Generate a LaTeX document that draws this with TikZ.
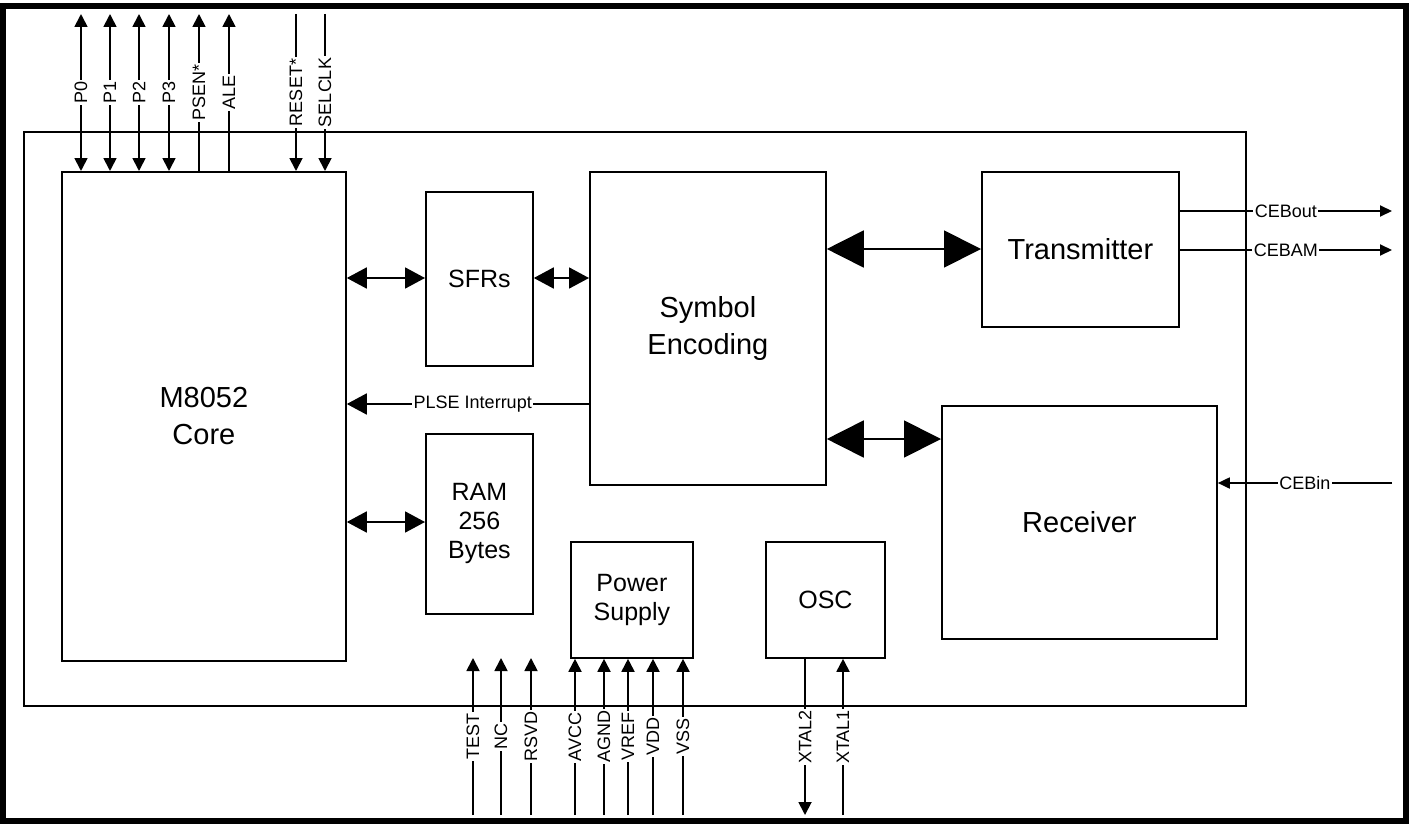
\documentclass[tikz,border=0pt]{standalone}
\usepackage{fontspec}
\setmainfont{Liberation Sans}
\usetikzlibrary{arrows.meta}
\begin{document}
\begin{tikzpicture}[x=1pt,y=-1pt,
  box/.style={draw, line width=1.8pt, inner sep=0pt, anchor=north west, align=center},
  bigtxt/.style={font=\fontsize{29}{37}\selectfont},
  midtxt/.style={font=\fontsize{25}{29}\selectfont},
  wire/.style={line width=1.8pt},
  pinlbl/.style={fill=white, inner sep=1.5pt, font=\fontsize{18}{20}\selectfont},
  vlbl/.style={pinlbl, rotate=90},
  pint/.tip={Triangle[length=13pt,width=13pt]},
  smt/.tip={Triangle[length=12pt,width=11pt]},
  medt/.tip={Triangle[length=20pt,width=21pt]},
  bigt/.tip={Triangle[length=37pt,width=37pt]}]
\useasboundingbox (0,0) rectangle (1415,824);
\draw[line width=6pt] (3,6.3) rectangle (1406,821);
% chip outline
\node[box, minimum width=1222pt, minimum height=574pt] (chip) at (23,131) {};
% blocks
\node[box, bigtxt, minimum width=284pt, minimum height=489pt] (core) at (61,171) {M8052\\Core};
\node[box, midtxt, minimum width=107pt, minimum height=174pt] (sfr) at (425,191) {SFRs};
\node[box, midtxt, minimum width=107pt, minimum height=180pt] (ram) at (425,433) {RAM\\256\\Bytes};
\node[box, bigtxt, minimum width=236pt, minimum height=313pt] (sym) at (589,171) {Symbol\\Encoding};
\node[box, bigtxt, minimum width=197pt, minimum height=155pt] (tx) at (981,171) {Transmitter};
\node[box, bigtxt, minimum width=275pt, minimum height=233pt] (rx) at (941,405) {Receiver};
\node[box, midtxt, minimum width=122pt, minimum height=116pt] (ps) at (570,541) {Power\\Supply};
\node[box, midtxt, minimum width=119pt, minimum height=116pt] (osc) at (765,541) {OSC};
% internal connectors
\coordinate (ya) at (0,278);
\coordinate (yb) at (0,249);
\coordinate (yc) at (0,439);
\coordinate (yd) at (0,404);
\coordinate (ye) at (0,522);
\draw[wire, medt-medt] (core.east |- ya) -- (sfr.west |- ya);
\draw[wire, medt-medt] (sfr.east |- ya) -- (sym.west |- ya);
\draw[wire, bigt-bigt] (sym.east |- yb) -- (tx.west |- yb);
\draw[wire, bigt-bigt] (sym.east |- yc) -- (rx.west |- yc);
\draw[wire, -medt] (sym.west |- yd) -- (core.east |- yd) node[pos=0.48, pinlbl] {PLSE Interrupt};
\draw[wire, medt-medt] (core.east |- ye) -- (ram.west |- ye);
% top pins
\coordinate (t0) at (81,14);
\coordinate (t1) at (110,14);
\coordinate (t2) at (139,14);
\coordinate (t3) at (169,14);
\coordinate (t4) at (199,14);
\coordinate (t5) at (229,14);
\coordinate (t6) at (296,14);
\coordinate (t7) at (325,14);
\draw[wire, pint-pint] (t0) -- (t0 |- core.north) node[midway, vlbl] {P0};
\draw[wire, pint-pint] (t1) -- (t1 |- core.north) node[midway, vlbl] {P1};
\draw[wire, pint-pint] (t2) -- (t2 |- core.north) node[midway, vlbl] {P2};
\draw[wire, pint-pint] (t3) -- (t3 |- core.north) node[midway, vlbl] {P3};
\draw[wire, -pint] (t4 |- core.north) -- (t4) node[midway, vlbl] {PSEN*};
\draw[wire, -pint] (t5 |- core.north) -- (t5) node[midway, vlbl] {ALE};
\draw[wire, -pint] (t6) -- (t6 |- core.north) node[midway, vlbl] {RESET*};
\draw[wire, -pint] (t7) -- (t7 |- core.north) node[midway, vlbl] {SELCLK};
% bottom pins
\coordinate (b0) at (473,815);
\coordinate (b1) at (501,815);
\coordinate (b2) at (531,815);
\coordinate (b0e) at (473,658);
\coordinate (b1e) at (501,658);
\coordinate (b2e) at (531,658);
\coordinate (b3) at (575,815);
\coordinate (b4) at (604,815);
\coordinate (b5) at (628,815);
\coordinate (b6) at (653,815);
\coordinate (b7) at (683,815);
\coordinate (b8) at (805,815);
\coordinate (b9) at (843,815);
\draw[wire, -pint] (b0) -- (b0e) node[midway, vlbl] {TEST};
\draw[wire, -pint] (b1) -- (b1e) node[midway, vlbl] {NC};
\draw[wire, -pint] (b2) -- (b2e) node[midway, vlbl] {RSVD};
\draw[wire, -pint] (b3) -- (b3 |- ps.south) node[midway, vlbl] {AVCC};
\draw[wire, -pint] (b4) -- (b4 |- ps.south) node[midway, vlbl] {AGND};
\draw[wire, -pint] (b5) -- (b5 |- ps.south) node[midway, vlbl] {VREF};
\draw[wire, -pint] (b6) -- (b6 |- ps.south) node[midway, vlbl] {VDD};
\draw[wire, -pint] (b7) -- (b7 |- ps.south) node[midway, vlbl] {VSS};
\draw[wire, -pint] (b8 |- osc.south) -- (b8) node[midway, vlbl] {XTAL2};
\draw[wire, -pint] (b9) -- (b9 |- osc.south) node[midway, vlbl] {XTAL1};
% right pins
\coordinate (co) at (1392,211);
\coordinate (ca) at (1392,250);
\coordinate (ci) at (1392,483);
\draw[wire, -smt] (co -| tx.east) -- (co) node[midway, pinlbl] {CEBout};
\draw[wire, -smt] (ca -| tx.east) -- (ca) node[midway, pinlbl] {CEBAM};
\draw[wire, -smt] (ci) -- (ci -| rx.east) node[midway, pinlbl] {CEBin};
\end{tikzpicture}
\end{document}
